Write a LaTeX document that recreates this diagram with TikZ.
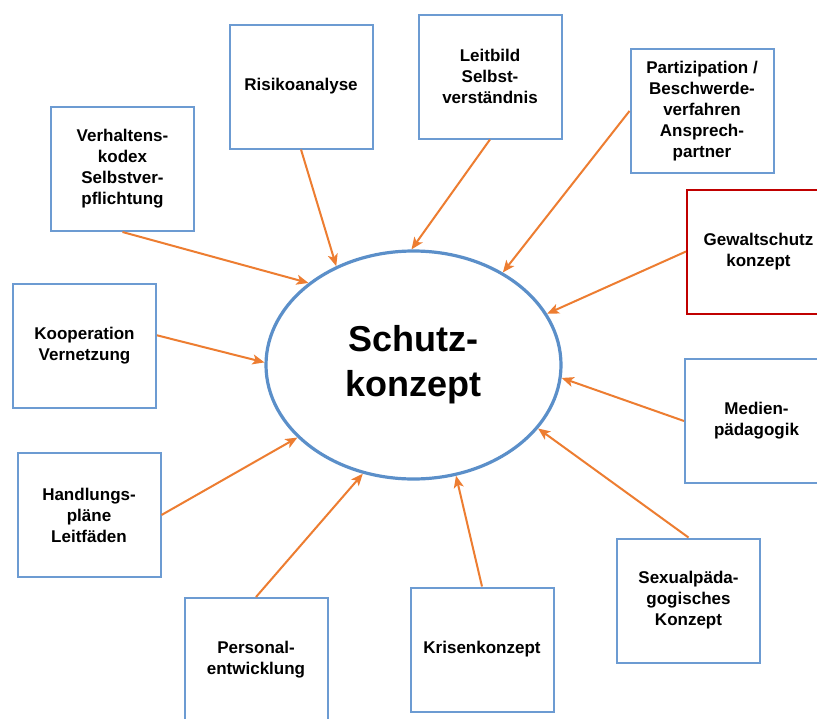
\documentclass[tikz,border=0pt]{standalone}
\usepackage{fontspec}
\setmainfont{Liberation Sans}
\usepackage{tikz}
\usetikzlibrary{arrows.meta}
\usetikzlibrary{shapes.geometric}

\definecolor{boxblue}{RGB}{108,155,210}
\definecolor{ringblue}{RGB}{91,143,201}
\definecolor{pfeilorange}{RGB}{237,125,49}
\definecolor{boxred}{RGB}{192,0,0}

\begin{document}
\begin{tikzpicture}[x=1pt,y=-1pt]
\tikzstyle{box}=[rectangle,align=center,draw=boxblue,line width=2pt,fill=white,minimum width=143pt,minimum height=124pt,inner sep=2pt,font=\fontsize{17}{21}\selectfont\bfseries]
\tikzstyle{pfeil}=[draw=pfeilorange,line width=2pt,-{Stealth[length=12pt,width=10pt,inset=3pt]}]
\clip (0,0) rectangle (817,718);
\fill[white] (0,0) rectangle (817,718);
\node[ellipse,draw=ringblue,line width=3.2pt,minimum width=295pt,minimum height=228pt,inner sep=0pt,align=center,font=\fontsize{36}{45}\selectfont\bfseries] at(413.5, 365) (sk) {Schutz-\\konzept};
\node[box] at(122.5, 169) (verh) {Verhaltens-\\kodex\\Selbstver-\\pflichtung};
\node[box] at(301, 86.5) (risk) {Risikoanalyse};
\node[box] at(490, 76.5) (leit) {Leitbild\\Selbst-\\verständnis};
\node[box] at(702, 111) (part) {Partizipation /\\Beschwerde-\\verfahren\\Ansprech-\\partner};
\node[box,draw=boxred] at(758.5, 251.5) (gew) {Gewaltschutz\\konzept};
\node[box] at(84.5, 345.5) (koop) {Kooperation\\Vernetzung};
\node[box] at(756.5, 421) (med) {Medien-\\pädagogik};
\node[box] at(89, 515) (handl) {Handlungs-\\pläne\\Leitfäden};
\node[box] at(688.5, 600.5) (sex) {Sexualpäda-\\gogisches\\Konzept};
\node[box] at(256, 660) (pers) {Personal-\\entwicklung};
\node[box] at(482, 649.5) (kris) {Krisenkonzept};
\draw[pfeil] (verh.south) -- (sk.142.6);
\draw[pfeil] (risk.south) -- (sk.128.1);
\draw[pfeil] (leit.south) -- (sk.91);
\draw[pfeil] (part.west) -- (sk.46.1);
\draw[pfeil] (gew.west) -- (sk.21.2);
\draw[pfeil] (koop.8) -- (sk.179);
\draw[pfeil] (med.west) -- (sk.355.3);
\draw[pfeil] (handl.east) -- (sk.212.7);
\draw[pfeil] (sex.north) -- (sk.333.2);
\draw[pfeil] (pers.north) -- (sk.245.3);
\draw[pfeil] (kris.north) -- (sk.291.2);
\end{tikzpicture}
\end{document}
